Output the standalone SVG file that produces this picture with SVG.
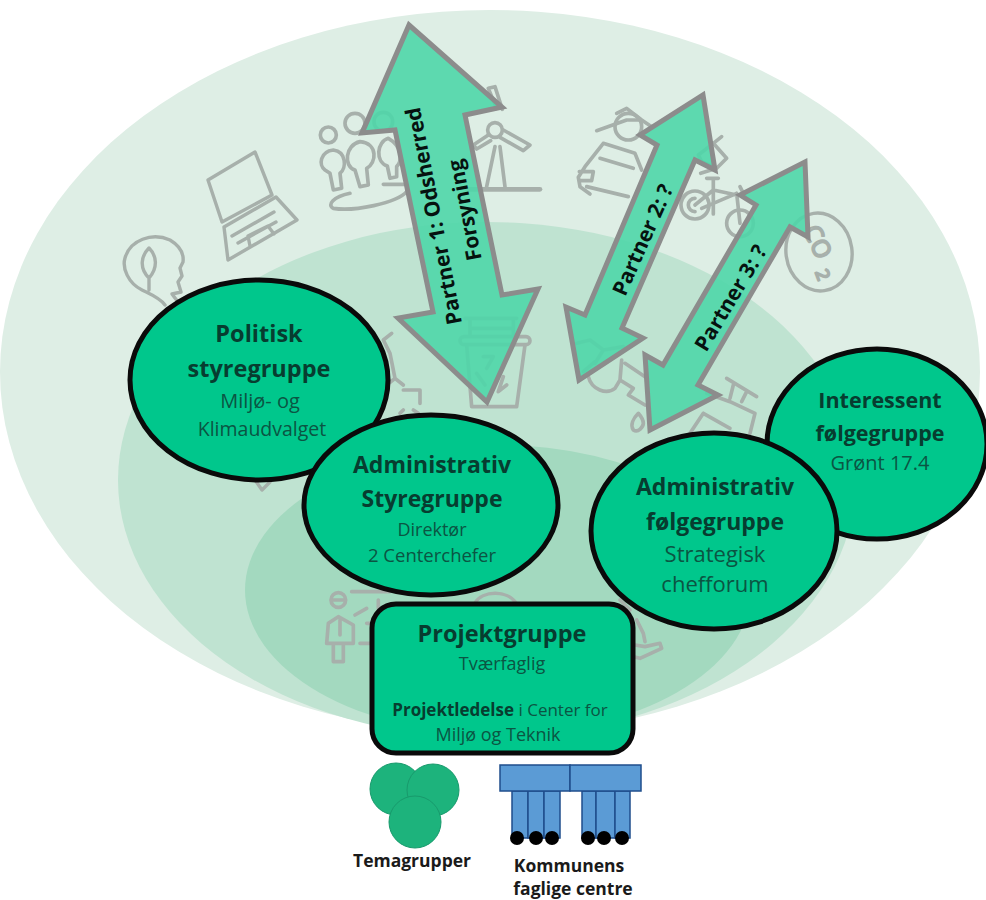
<svg xmlns="http://www.w3.org/2000/svg" width="986" height="900" viewBox="0 0 986 900">
<defs><style>
text{font-family:"Open Sans","Noto Sans","Liberation Sans",sans-serif;text-anchor:middle}
.node{fill:#00c78c;stroke:#0a0a0a;stroke-width:5}
.h{font-weight:700;fill:#073d30}
.s{fill:#0b5543}
.arrow{fill:#4fd6a8;fill-opacity:.9;stroke:#8c8c8c;stroke-width:5;stroke-linejoin:miter}
.icon{fill:none;stroke:#a7b0ab;stroke-width:3.4;stroke-linecap:round;stroke-linejoin:round}
.z{stroke-width:11}
.a{font-weight:700;font-size:21px;fill:#06120f}
.k{font-weight:700;font-size:17.5px;fill:#1a1a1a}
.bar{fill:#5b9bd5;stroke:#1f4e8c;stroke-width:1.5}
</style></defs>
<rect width="986" height="900" fill="#fff"/>
<g id="background">
<ellipse cx="490" cy="372" rx="490" ry="362" fill="#deeee5"/>
<ellipse cx="487" cy="480" rx="369" ry="258" fill="#bfe3d1"/>
<ellipse cx="498" cy="590" rx="253" ry="145" fill="#a3d9bf"/>
</g>
<g id="icons" class="icon">
<path d="M165 305C160 298 150 294 142 290C128 283 122 268 125 258C130 240 152 232 170 240C180 246 184 254 183 262L180 268L182 276L178 282L181 292L172 294L178 302M149 248C141 256 139 268 149 278C158 268 157 256 149 248ZM149 278V290"/>
<path d="M208 180L255 152L272 195L222 222ZM224 227L276 197L297 220L228 260ZM232 236L274 212M238 243L276 222M250 246L248 236L268 226L274 234"/>
<g transform="translate(300 80) scale(.3333)" class="z">
<circle cx="85" cy="165" r="24"/><circle cx="165" cy="130" r="30"/><circle cx="250" cy="125" r="28"/>
<path d="M100 210C60 215 55 255 75 270L90 280L100 330L125 325L120 280C140 265 140 215 100 210Z"/>
<path d="M180 185C135 195 130 260 165 270L180 320L205 315L200 265C230 250 235 190 180 185Z"/>
<path d="M265 175C230 185 225 245 262 258L270 295L290 290L290 260C305 245 310 200 265 175Z"/>
<path d="M150 340C100 350 80 375 100 385C160 395 290 370 320 335M250 313H320"/>
<circle cx="585" cy="150" r="22"/>
<path d="M610 150L690 195L670 212L600 172M565 165L520 195L530 207L572 182M590 85L565 25L585 20L607 88M585 200L560 320M600 200L615 320"/>
<path d="M500 328H720" stroke-width="14"/>
</g>
<g transform="translate(570 90) scale(.3333)" class="z">
<circle cx="175" cy="110" r="40"/>
<path d="M80 122L170 90L215 90M140 70L170 55L215 90L245 110"/>
<path d="M100 160L195 190L215 240M100 160L45 230L25 262L30 290L60 312M50 290L175 320M90 205L190 235M28 245H70L65 272H30"/>
<circle cx="375" cy="345" r="42"/>
<path d="M375 325A20 20 0 0 0 375 365M375 345L430 300L500 315M430 265V372M395 355L500 310M410 265H445M500 310L510 400M510 290L525 320"/>
<circle cx="510" cy="400" r="40"/>
<path d="M385 195L430 160L470 205L440 235L395 215ZM430 160L455 140M440 235L392 250"/>
</g>
<ellipse cx="819" cy="252" rx="33" ry="39" transform="rotate(-8 819 252)"/>
<text transform="translate(803 230) rotate(65)" font-size="24" stroke-width="2" style="text-anchor:start">CO</text>
<text transform="translate(815 272) rotate(70)" font-size="18" stroke-width="2" style="text-anchor:start">2</text>
<g transform="translate(370 310) scale(.3333)" class="z">
<path d="M285 25H440M300 30V75M430 30V75M300 55H430"/>
<rect x="270" y="80" width="210" height="24" rx="12"/>
<path d="M290 105L305 290H440L465 105M340 140L370 140L350 175M320 190L345 225M400 200L385 245L410 225"/>
<path d="M65 70L40 90L60 130L75 205L50 225M75 205L100 225M100 240H150V280M90 310L100 300M130 300L145 310"/>
</g>
<g transform="translate(570 330) scale(.3333)" class="z">
<path d="M20 40L60 30L100 60L75 100M100 60L160 50M40 125L75 95"/>
<path d="M55 140C65 180 110 195 135 175L150 150L190 175L175 195L225 225M155 90L150 150M165 100L225 140"/>
<path d="M205 250C190 265 180 285 190 300C205 310 220 290 220 280C220 268 212 258 205 250Z"/>
<path d="M470 145L560 200M490 165L480 205M530 185L515 215M410 190L480 215L555 250L540 310M400 250L360 310M400 250L480 295"/>
</g>
<path d="M255 480L262 490L270 482"/>
<g transform="translate(310 580) scale(.3333)" class="z">
<circle cx="85" cy="60" r="22"/>
<path d="M65 60H105M85 110L55 130L50 190H130L130 135ZM70 190V245H100V190M90 120V165M125 35H240M205 60V85M135 105L170 85M150 190H185M170 130H190"/>
</g>
<path d="M475 603C482 590 508 590 516 603"/>
<g transform="translate(620 590) scale(.3333)" class="z">
<path d="M45 165L75 170L120 160L125 175L60 205L40 200M50 90L70 130L75 155M0 30L30 60"/>
</g>
</g>
<g id="connectors">
<polygon class="arrow" points="409,25 502,107 465,115 502,295 538,289 487,402 398,318 433,312 395,130 362,133"/>
<polygon class="arrow" points="703,95 715,170 695,160 622,328 643,338 579,380 566,307 585,315 657,145 640,135"/>
<polygon class="arrow" points="805,162 808,237 790,227 698,385 718,395 650,430 645,355 663,365 756,205 740,195"/>
<text class="a" transform="translate(434 216) rotate(-101)" y="7">Partner 1: Odsherred</text>
<text class="a" transform="translate(465 210) rotate(-101)" y="7">Forsyning</text>
<text class="a" transform="translate(643 240) rotate(-66)" y="7">Partner 2: ?</text>
<text class="a" transform="translate(731 298) rotate(-59)" y="7">Partner 3: ?</text>
</g>
<g id="politisk-styregruppe">
<ellipse class="node" cx="259" cy="380" rx="129" ry="100"/>
<text class="h" x="259" y="342" font-size="23.5">Politisk</text>
<text class="h" x="259" y="377" font-size="23.5">styregruppe</text>
<text class="s" x="260" y="408" font-size="20">Miljø- og</text>
<text class="s" x="262" y="436" font-size="19.5">Klimaudvalget</text>
</g>
<g id="administrativ-styregruppe">
<ellipse class="node" cx="431" cy="505" rx="127" ry="90"/>
<text class="h" x="432" y="473" font-size="23">Administrativ</text>
<text class="h" x="432" y="507" font-size="23">Styregruppe</text>
<text class="s" x="432" y="536" font-size="18">Direktør</text>
<text class="s" x="432" y="562" font-size="18.5">2 Centerchefer</text>
</g>
<g id="interessent-folgegruppe">
<ellipse class="node" cx="877" cy="444" rx="110" ry="95"/>
<text class="h" x="880" y="408" font-size="21.5">Interessent</text>
<text class="h" x="880" y="441" font-size="21.5">følgegruppe</text>
<text class="s" x="880" y="470" font-size="20">Grønt 17.4</text>
</g>
<g id="administrativ-folgegruppe">
<ellipse class="node" cx="714" cy="531" rx="123" ry="98"/>
<text class="h" x="715" y="495" font-size="23">Administrativ</text>
<text class="h" x="715" y="530" font-size="23">følgegruppe</text>
<text class="s" x="715" y="562" font-size="22">Strategisk</text>
<text class="s" x="715" y="592" font-size="22">chefforum</text>
</g>
<g id="projektgruppe">
<rect class="node" x="372" y="604" width="261" height="149" rx="24"/>
<text class="h" x="502" y="642" font-size="23.5">Projektgruppe</text>
<text class="s" x="502" y="670" font-size="18">Tværfaglig</text>
<text class="s" x="500" y="716" font-size="17"><tspan class="h">Projektledelse</tspan> i Center for</text>
<text class="s" x="498" y="741" font-size="18">Miljø og Teknik</text>
</g>
<g id="temagrupper">
<circle cx="396" cy="789" r="26" fill="#1db37c" stroke="#189a6c"/>
<circle cx="433" cy="790" r="26" fill="#1db37c" stroke="#189a6c"/>
<circle cx="415" cy="822" r="26" fill="#1db37c" stroke="#189a6c"/>
<text class="k" x="412" y="867">Temagrupper</text>
</g>
<g id="kommunens-faglige-centre">
<rect class="bar" x="512" y="791" width="16" height="47"/><rect class="bar" x="528" y="791" width="16" height="47"/><rect class="bar" x="544" y="791" width="16" height="47"/>
<rect class="bar" x="582" y="791" width="14" height="47"/><rect class="bar" x="596" y="791" width="19" height="47"/><rect class="bar" x="615" y="791" width="15" height="47"/>
<rect class="bar" x="500" y="765" width="70" height="26"/><rect class="bar" x="570" y="765" width="71" height="26"/>
<circle cx="517" cy="838" r="7"/><circle cx="536" cy="838" r="7"/><circle cx="552" cy="838" r="7"/>
<circle cx="588" cy="838" r="7"/><circle cx="604" cy="838" r="7"/><circle cx="622" cy="838" r="7"/>
<text class="k" x="569" y="872">Kommunens</text>
<text class="k" x="573" y="895">faglige centre</text>
</g>
</svg>
